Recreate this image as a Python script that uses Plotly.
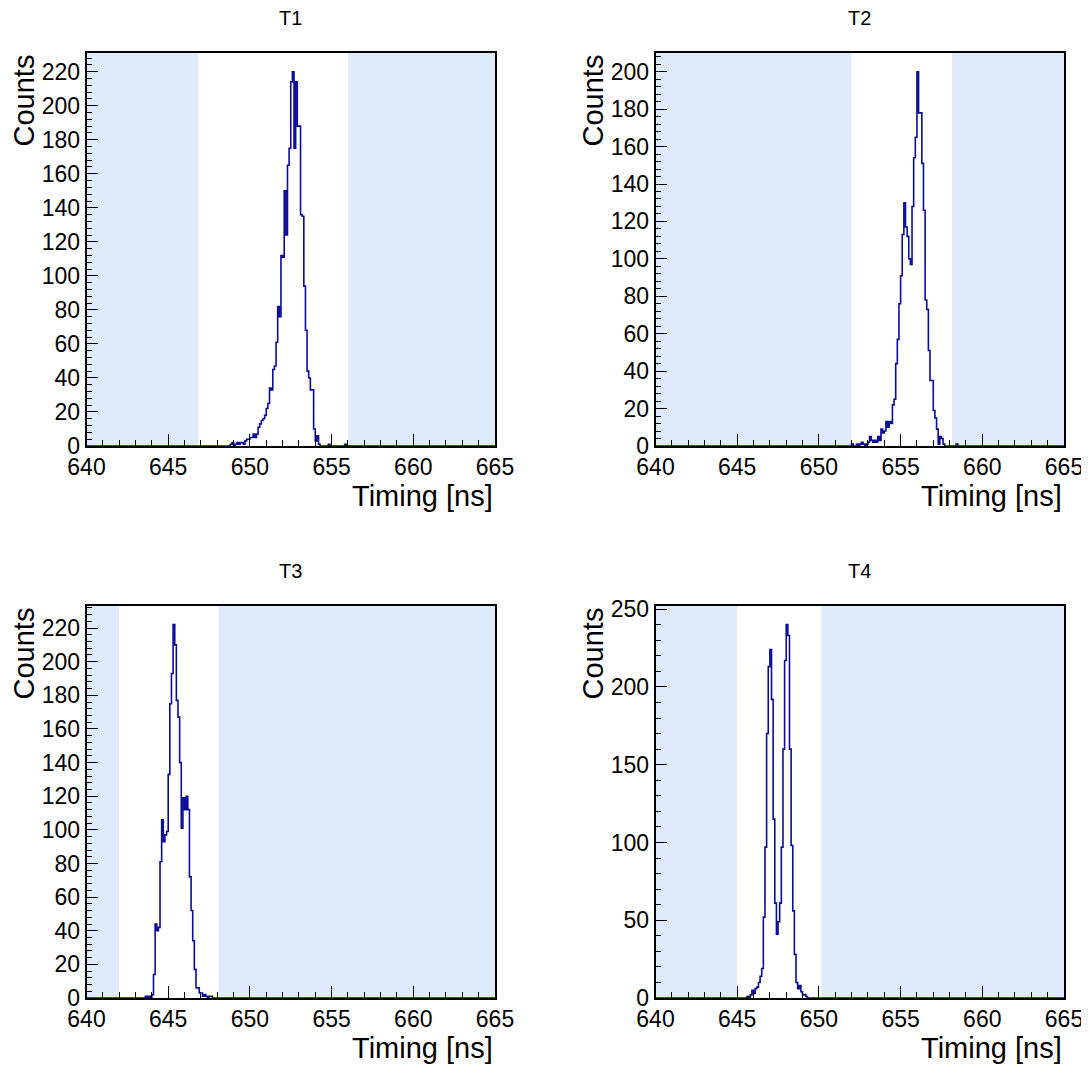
import numpy as np
import plotly.graph_objects as go

# ---------------- data ----------------
channels = ["T1", "T2", "T3", "T4"]
x_min, x_max = 640.0, 665.0
bin_width = 0.1
x_tick_values = [640, 645, 650, 655, 660, 665]

t1_first_edge = 648.5
t1_counts = [0, 0, 0, 1, 2, 0, 1, 2, 1, 2, 2, 1, 3, 4, 4, 5, 5, 7, 5, 7,
             11, 13, 15, 16, 18, 22, 25, 34, 33, 45, 47, 61, 82, 76, 112, 111,
             150, 124, 165, 175, 214, 220, 175, 214, 188, 188, 136, 135, 94, 68,
             44, 40, 33, 33, 10, 3, 6, 1, 0, 0, 0, 0, 0, 1, 0, 0, 0, 0, 0, 0,
             0, 0, 0, 1]

t2_first_edge = 652.0
t2_counts = [1, 0, 0, 1, 0, 1, 2, 1, 0, 1, 2, 5, 3, 2, 3, 2, 5, 3, 9, 7,
             8, 13, 10, 13, 12, 22, 25, 44, 57, 76, 91, 113, 130, 117, 112, 100,
             97, 128, 154, 165, 200, 178, 178, 151, 126, 78, 73, 51, 35, 35, 19,
             15, 9, 1, 5, 4, 1, 0, 0, 0, 0, 0, 0, 0, 1]

t3_first_edge = 643.0
t3_counts = [0, 0, 0, 0, 0, 0, 1, 0, 1, 0, 2, 14, 44, 40, 42, 81, 106, 93, 97,
             99, 133, 175, 193, 222, 210, 177, 167, 140, 101, 119, 112, 120, 112,
             72, 52, 34, 17, 6, 6, 3, 3, 1, 2, 1, 0, 1, 1]

t4_first_edge = 645.0
t4_counts = [0, 0, 0, 0, 0, 0, 1, 0, 2, 5, 3, 6, 7, 10, 14, 19, 52, 97, 170,
             213, 224, 192, 115, 61, 41, 49, 61, 97, 160, 217, 240, 233, 160, 98,
             56, 28, 10, 6, 8, 4, 2, 2, 1]

first_edges = [t1_first_edge, t2_first_edge, t3_first_edge, t4_first_edge]
all_counts = [t1_counts, t2_counts, t3_counts, t4_counts]

# timing acceptance windows (outside is shaded)
window_lo = [646.85, 652.0, 642.0, 645.0]
window_hi = [656.0, 658.15, 648.1, 650.15]

y_major = [20, 20, 20, 50]
y_minor = [4, 4, 4, 10]

# ---------------- style ----------------
PAGE_OFF = 8          # default body margin of the html page
W, H = 1089 - PAGE_OFF, 1068 - PAGE_OFF
FONT = "Liberation Sans, Arial, Helvetica, sans-serif"
LINE_COLOR = "#0b0b9a"
SHADE = "rgb(221,235,252)"

# plot-area pixel boxes in page pixels (left, right, top, bottom)
boxes = [(86.5, 495, 53, 446), (655.5, 1064, 53, 446),
         (86.5, 495, 606, 998), (655.5, 1064, 606, 998)]


def px(v):
    return v / W


def py(v):
    return 1 - v / H


fig = go.Figure()
n_bins = int(round((x_max - x_min) / bin_width))
edges = x_min + np.arange(n_bins + 1) * bin_width

shapes = []
annotations = []
layout_axes = {}

for i, (name, fe, counts) in enumerate(zip(channels, first_edges, all_counts)):
    full = np.zeros(n_bins)
    off = int(round((fe - x_min) / bin_width))
    full[off:off + len(counts)] = counts
    yvals = np.append(full, full[-1])
    xa = "x" if i == 0 else f"x{i+1}"
    ya = "y" if i == 0 else f"y{i+1}"
    fig.add_trace(go.Scatter(x=edges, y=yvals, mode="lines", line_shape="hv",
                             line=dict(color=LINE_COLOR, width=1.6),
                             xaxis=xa, yaxis=ya, showlegend=False,
                             hoverinfo="skip"))
    l, r, t, b = [v - PAGE_OFF for v in boxes[i]]
    ymax = 1.05 * max(counts)
    common = dict(showline=True, linecolor="black", linewidth=1.5, mirror=True,
                  showgrid=False, zeroline=False, ticks="inside",
                  tickcolor="black", tickwidth=1, ticklen=12, automargin=False,
                  tickfont=dict(family=FONT, size=23, color="black"))
    layout_axes["xaxis" if i == 0 else f"xaxis{i+1}"] = dict(
        domain=[px(l), px(r)], range=[x_min, x_max], anchor=ya,
        tickmode="array", tickvals=x_tick_values,
        minor=dict(dtick=1, tick0=x_min, ticks="inside", ticklen=6,
                   tickcolor="black", tickwidth=1, showgrid=False),
        **common)
    layout_axes["yaxis" if i == 0 else f"yaxis{i+1}"] = dict(
        domain=[py(b), py(t)], range=[0, ymax], anchor=xa,
        dtick=y_major[i], tick0=0,
        minor=dict(dtick=y_minor[i], tick0=0, ticks="inside", ticklen=6,
                   tickcolor="black", tickwidth=1, showgrid=False),
        **common)
    # shaded regions outside window
    for x0, x1 in [(x_min, window_lo[i]), (window_hi[i], x_max)]:
        shapes.append(dict(type="rect", xref=xa, yref=f"{ya} domain",
                           x0=x0, x1=x1, y0=0, y1=1, fillcolor=SHADE,
                           line=dict(width=0), layer="below"))
    # title
    annotations.append(dict(text=name, xref="paper", yref="paper",
                            x=px((l + r) / 2), y=py(t - 35),
                            xanchor="center", yanchor="middle", showarrow=False,
                            font=dict(family=FONT, size=20, color="black")))
    # y title
    annotations.append(dict(text="Counts", xref="paper", yref="paper",
                            x=px(l - 63), y=py(t), textangle=-90,
                            xanchor="center", yanchor="top", showarrow=False,
                            font=dict(family=FONT, size=29, color="black")))
    # x title
    annotations.append(dict(text="Timing [ns]", xref="paper", yref="paper",
                            x=px(r), y=py(b + 50),
                            xanchor="right", yanchor="middle", showarrow=False,
                            font=dict(family=FONT, size=29, color="black")))

fig.update_layout(width=W, height=H, autosize=False,
                  margin=dict(l=0, r=0, t=0, b=0, autoexpand=False),
                  paper_bgcolor="white", plot_bgcolor="white",
                  shapes=shapes, annotations=annotations,
                  font=dict(family=FONT), **layout_axes)

fig.write_html("out.html")
